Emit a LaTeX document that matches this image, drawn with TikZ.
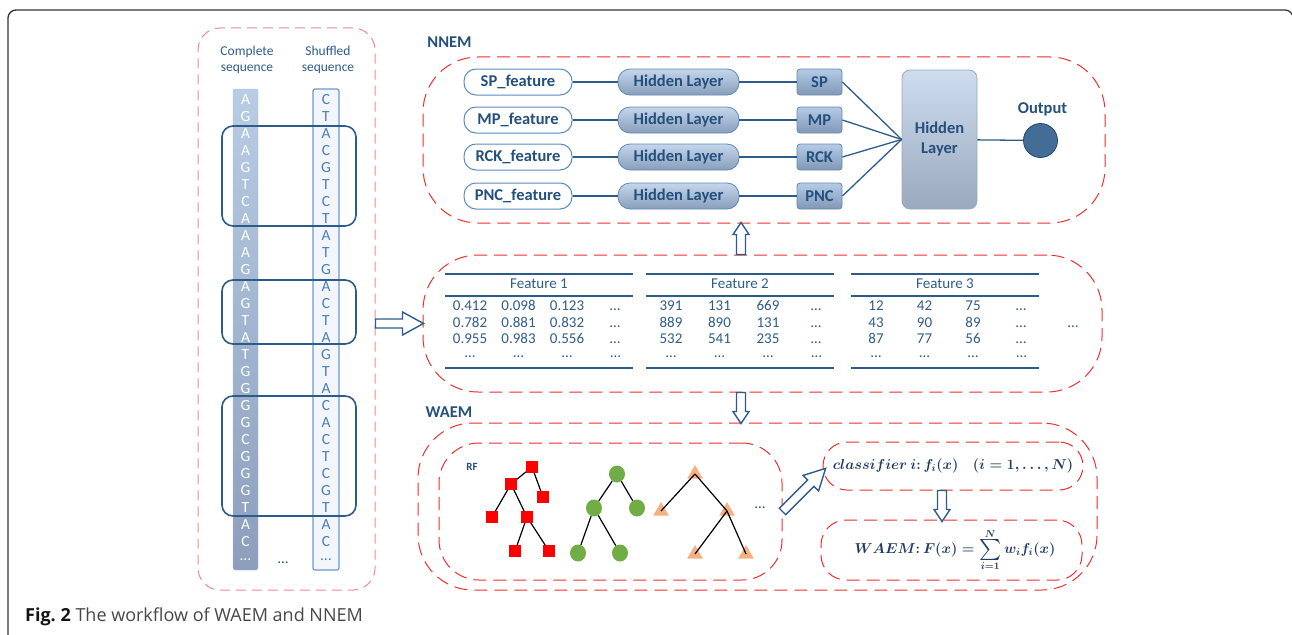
\documentclass[tikz,border=0pt]{standalone}
\usepackage{graphicx}
\usepackage[no-math]{fontspec}
\setmainfont{Carlito}
\newfontfamily\capfont{Open Sans}
\usetikzlibrary{shapes.geometric}

\definecolor{navy}{HTML}{24507E}
\definecolor{linkblue}{HTML}{2E5C8A}
\definecolor{featedge}{HTML}{5A8AC6}
\definecolor{dashred}{HTML}{EE2E2E}
\definecolor{palered}{HTML}{F08A8A}
\definecolor{seqblue}{HTML}{4A7EBB}
\definecolor{coltop}{HTML}{B8CCE4}
\definecolor{colbot}{HTML}{8C9EBC}
\definecolor{leafgreen}{HTML}{70AD47}
\definecolor{peach}{HTML}{F4B183}
\definecolor{formula}{HTML}{1F3B63}

\newcommand{\bigsum}{\mathop{\vcenter{\hbox{\scalebox{2.1}{$\sum$}}}}\limits}
\newcommand{\classtext}{{\boldmath$classifier~i{:}\,f_i(x)\quad(i=1,\ldots,N)$}}
\newcommand{\waemtext}{{\boldmath$\displaystyle WAEM{:}\,F(x)=\bigsum_{i=1}^{N}w_if_i(x)$}}

\tikzset{
    redbox/.style={draw=dashred, line width=1pt, dash pattern=on 13pt off 7pt},
    seqframe/.style={draw=palered, line width=1pt, dash pattern=on 10pt off 6pt,
        rounded corners=22, minimum width=177, minimum height=562},
    groupbox/.style={draw=linkblue, line width=1.6pt, rounded corners=11, minimum width=134},
    compbar/.style={draw=coltop!70!colbot, top color=coltop, bottom color=colbot,
        rounded corners=2, minimum width=25, minimum height=481},
    shufbar/.style={draw=seqblue!80, fill=seqblue!7, line width=1.2pt, rounded corners=2,
        minimum width=26, minimum height=481},
    compbase/.style={text=white, font=\fontsize{15.5}{15}\selectfont},
    shufbase/.style={text=seqblue, font=\fontsize{15.5}{15}\selectfont},
    seqlabel/.style={text=linkblue, align=center, font=\fontsize{13.5}{16}\selectfont},
    heading/.style={text=navy, font=\fontsize{16.5}{19}\selectfont\bfseries},
    featnode/.style={draw=featedge, fill=white, line width=1pt, rounded corners=12,
        minimum width=108, minimum height=26, text=navy, font=\fontsize{16.5}{19}\selectfont\bfseries},
    hidnode/.style={draw=featedge!80!gray, top color=featedge!35, bottom color=featedge!60!gray!80,
        line width=0.8pt, rounded corners=12, minimum width=121, minimum height=26,
        text=navy, font=\fontsize{16.5}{19}\selectfont\bfseries},
    outnode/.style={draw=featedge!70!gray, top color=featedge!45, bottom color=featedge!60!gray!85,
        line width=0.8pt, rounded corners=3, minimum width=45, minimum height=26,
        text=navy, font=\fontsize{16.5}{19}\selectfont\bfseries},
    bighid/.style={draw=featedge!50!gray!70, top color=featedge!30, bottom color=featedge!45!gray!70,
        line width=0.8pt, rounded corners=8, minimum width=75, minimum height=139, align=center,
        text=navy, font=\fontsize{16.5}{20}\selectfont\bfseries},
    outcircle/.style={circle, draw=navy!90!black, fill=linkblue!90, line width=0.8pt, minimum size=34},
    link/.style={draw=linkblue, line width=1.3pt},
    tabrule/.style={draw=linkblue, line width=1.6pt},
    cell/.style={text=linkblue, font=\fontsize{15}{15}\selectfont, text height=10pt, text depth=3pt},
    arrowline/.style={draw=linkblue, fill=white, line width=1.4pt, line join=miter},
    sqleaf/.style={fill=red, minimum size=11.5},
    ovleaf/.style={ellipse, fill=leafgreen, minimum width=16, minimum height=17},
    trileaf/.style={regular polygon, regular polygon sides=3, fill=peach, minimum size=18},
    treeline/.style={draw=black, line width=1.2pt},
    mathtext/.style={text=formula, font=\fontsize{14.4}{17}\selectfont},
    pics/hollowarrow/.style args={#1/#2/#3}{code={
        \draw[arrowline] (0,-4.5) -- ({#1-#2},-4.5) -- ({#1-#2},-#3) -- (#1,0)
            -- ({#1-#2},#3) -- ({#1-#2},4.5) -- (0,4.5) -- cycle;
    }}
}

\begin{document}
\begin{tikzpicture}[
    x=1pt,
    y=-1pt,
    every node/.style={inner sep=0pt}
]
\useasboundingbox (0,0) rectangle (1292,634);
\draw[line width=1.3pt, draw=black!80, rounded corners=8] (8,660) -- (8,10) -- (1293,10) -- (1293,660);

\node[seqframe] (seqbox) at (286.5,309) {};
\node[seqlabel] (complab) at (247,60) {Complete\\sequence};
\node[seqlabel] (shuflab) at (328,60) {Shuffled\\sequence};
\node[compbar] (compcol) at (245.5,329.5) {};
\node[shufbar] (shufcol) at (326,329.5) {};
\foreach \b [count=\i from 0] in {A,G,A,A,G,T,C,A,A,A,G,A,G,T,A,T,G,G,G,G,C,G,G,G,T,A,C}
    \node[compbase] (c\i) at (245.5,100+17*\i) {\b};
\foreach \b [count=\i from 0] in {C,T,A,C,G,T,C,T,A,T,G,A,C,T,A,G,T,A,C,A,C,T,C,G,T,A,C}
    \node[shufbase] (s\i) at (326,100+17*\i) {\b};
\node[compbase] (cdots) at (245.5,560) {…};
\node[shufbase] (sdots) at (326,560) {…};
\node[cell, text=navy] (mdots) at (283,560) {…};
\node[groupbox, minimum height=100] (grp1) at (289,176) {};
\node[groupbox, minimum height=64] (grp2) at (289,312) {};
\node[groupbox, minimum height=120] (grp3) at (289,456) {};

\node[heading] (nnemlab) at (449.5,42) {NNEM};
\node[redbox, minimum width=682, minimum height=166, rounded corners=55] (nnembox) at (764,140) {};
\node[bighid] (bighid) at (939.5,139.5) {Hidden\\Layer};
\foreach \f/\y in {SP/82,MP/120,RCK/157,PNC/196}{
    \node[featnode] (feat\f) at (518,\y) {\f\_feature};
    \node[hidnode] (hid\f) at (678.5,\y) {Hidden Layer};
    \node[outnode] (out\f) at (819.5,\y) {\f};
    \draw[link] (feat\f) -- (hid\f) -- (out\f);
    \draw[link] (out\f.east) -- (bighid.west);
}
\node[outcircle] (output) at (1040.5,140.5) {};
\node[heading] (outlab) at (1042.5,109) {Output};
\draw[link] (bighid) -- (output);

\node[redbox, minimum width=679, minimum height=137, rounded corners=55] (featbox) at (762.5,323.5) {};
\foreach \x/\n in {445/1,646/2,851/3}{
    \draw[tabrule] (\x,274) -- ++(188,0);
    \draw[tabrule] (\x,296) -- ++(188,0);
    \draw[tabrule] (\x,368) -- ++(188,0);
    \node[cell] (head\n) at (\x+94,284.5) {Feature \n};
    \foreach \c in {0,1,2,3}
        \node[cell] (dots\n\c) at (\x+25+48.5*\c,354) {…};
    \foreach \r in {0,1,2}
        \node[cell] (more\n\r) at (\x+170,307+16.5*\r) {…};
}
\foreach \row [count=\r from 0] in {{0.412,0.098,0.123},{0.782,0.881,0.832},{0.955,0.983,0.556}}
    \foreach \v [count=\c from 0] in \row
        \node[cell] (a\r\c) at (470+48.5*\c,307+16.5*\r) {\v};
\foreach \row [count=\r from 0] in {{391,131,669},{889,890,131},{532,541,235}}
    \foreach \v [count=\c from 0] in \row
        \node[cell] (b\r\c) at (671+48.5*\c,307+16.5*\r) {\v};
\foreach \row [count=\r from 0] in {{12,42,75},{43,90,89},{87,77,56}}
    \foreach \v [count=\c from 0] in \row
        \node[cell] (d\r\c) at (876+48.5*\c,307+16.5*\r) {\v};
\node[cell] (tabmore) at (1073,323.5) {…};

\pic at (seqbox.east |- featbox.west) {hollowarrow=48/21/11.5};
\pic[rotate=90] at ([xshift=-21.5pt]featbox.north) {hollowarrow=32/12/8};

\node[heading] (waemlab) at (449,412) {WAEM};
\node[redbox, minimum width=679, minimum height=167, rounded corners=55] (waembox) at (757.5,506.5) {};
\node[redbox, minimum width=343, minimum height=137, rounded corners=40] (rfbox) at (610.5,511.5) {};
\node[heading, font=\fontsize{11}{13}\selectfont\bfseries] (rflab) at (472,467) {RF};
\pic[rotate=-90] at ([xshift=-21.5pt]featbox.south) {hollowarrow=31/12/8};

\node[sqleaf] (r0) at (532,467) {};
\node[sqleaf] (r1) at (511,484) {};
\node[sqleaf] (r2) at (543,497) {};
\node[sqleaf] (r3) at (492,517) {};
\node[sqleaf] (r4) at (527,517) {};
\node[sqleaf] (r5) at (515,551) {};
\node[sqleaf] (r6) at (549,551) {};
\draw[treeline] (r0) -- (r1) (r0) -- (r2) (r1) -- (r3) (r1) -- (r4) (r4) -- (r5) (r4) -- (r6);

\node[ovleaf] (g0) at (617,474) {};
\node[ovleaf] (g1) at (594,508) {};
\node[ovleaf] (g2) at (637,508) {};
\node[ovleaf] (g3) at (578,553) {};
\node[ovleaf] (g4) at (620,553) {};
\draw[treeline] (g0) -- (g1) (g0) -- (g2) (g1) -- (g3) (g1) -- (g4);

\node[trileaf] (t0) at (695,474) {};
\node[trileaf] (t1) at (661,511) {};
\node[trileaf] (t2) at (727,511) {};
\node[trileaf] (t3) at (695,554) {};
\node[trileaf] (t4) at (746,554) {};
\draw[treeline] (t0.center) -- (t1.center) (t0.center) -- (t2.center)
    (t2.center) -- (t3.center) (t2.center) -- (t4.center);
\node[cell, text=navy] (rfdots) at (760,505) {…};

\node[redbox, minimum width=260, minimum height=48, rounded corners=24] (classbox) at (953,466) {};
\node[mathtext] (classlab) at (953,466) {\classtext};
\node[redbox, minimum width=261, minimum height=60, rounded corners=25] (formbox) at (951.5,550) {};
\node[mathtext] (formlab) at (955,550) {\waemtext};
\pic[rotate=45] at (rfbox.east) {hollowarrow=61/21/11};
\pic[rotate=-90] at ([xshift=-11pt]classbox.south) {hollowarrow=31/12/8};

\node[anchor=west, text=black!72, font=\capfont\fontsize{18}{22}\selectfont] (caption) at (25,617)
    {{\color{black!92}\bfseries Fig.~2} The workflow of WAEM and NNEM};
\end{tikzpicture}
\end{document}
